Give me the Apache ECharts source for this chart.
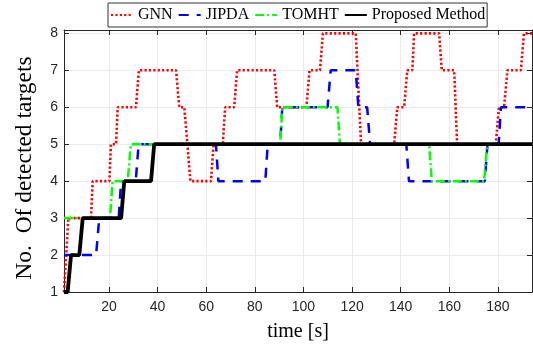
<!DOCTYPE html>
<html>
<head>
<meta charset="utf-8">
<script src="https://cdn.jsdelivr.net/npm/echarts@6/dist/echarts.min.js"></script>
<style>
  html, body { margin: 0; padding: 0; background: #fff; }
  #chart { width: 533px; height: 348px; }
</style>
</head>
<body>
<div id="chart"></div>
<script>
// tick labels
const xTicks = [20, 40, 60, 80, 100, 120, 140, 160, 180];
const yTicks = [1, 2, 3, 4, 5, 6, 7, 8];

// break points [time, count]
const gnn = [[1.5, 1], [2.2, 1], [3.3, 3], [12.6, 3], [13.3, 4], [20.2, 4], [20.8, 5], [22.9, 5], [23.6, 6],
  [31.1, 6], [32.3, 7], [47.6, 7], [48.9, 6], [51, 6], [53.5, 4], [62, 4], [63, 5], [66.8, 5], [67.8, 6],
  [71.5, 6], [72.7, 7], [88, 7], [89.2, 6], [101.2, 6], [102.5, 7], [106.8, 7], [108, 8], [121.5, 8],
  [123.7, 5], [137.3, 5], [138.6, 6], [141.4, 6], [142.7, 7], [144.8, 7], [145.5, 8], [155.8, 8],
  [156.9, 7], [162, 7], [163.2, 5], [179.1, 5], [180.4, 6], [182.5, 6], [183.9, 7], [189.4, 7],
  [190.7, 8], [194, 8]];
const jipda = [[1.5, 2], [14.7, 2], [16, 3], [24, 3], [25, 4], [31, 4], [32.2, 5], [64, 5], [65, 4],
  [84.3, 4], [85.3, 5], [90.4, 5], [91.3, 6], [109.9, 6], [111.2, 7], [121.5, 7], [122.6, 6],
  [126.2, 6], [127.4, 5], [142.3, 5], [143.4, 4], [174.6, 4], [175.7, 5], [180.3, 5], [181.2, 6], [194, 6]];
const tomht = [[1.5, 3], [20.4, 3], [21.5, 4], [27.7, 4], [29, 5], [90.4, 5], [91.3, 6], [114, 6],
  [115, 5], [151.7, 5], [152.8, 4], [174.3, 4], [175.6, 5], [194, 5]];
const proposed = [[1.5, 1], [3, 1], [4.4, 2], [7.8, 2], [9.2, 3], [25, 3], [26.3, 4], [37.3, 4],
  [38.6, 5], [194, 5]];

const axisColor = "#262626";
const gridColor = "#ebebeb";

const chart = echarts.init(document.getElementById("chart"));

function frameAxis(pos, ticks) {
  return {
    type: "value",
    position: pos,
    axisLine: { show: true, lineStyle: { color: axisColor, width: 1 } },
    axisTick: { show: true, inside: true, length: 5, customValues: ticks, lineStyle: { color: axisColor } },
    axisLabel: { show: false },
    splitLine: { show: false },
  };
}

chart.setOption({
  animation: false,
  grid: { left: 64, right: 1, top: 30, bottom: 56 },
  legend: {
    left: 108,
    top: 3,
    padding: [4, 2, 4, 2],
    itemGap: 5,
    itemWidth: 22,
    itemHeight: 14,
    borderColor: "#333",
    borderWidth: 1,
    backgroundColor: "#fff",
    itemStyle: { opacity: 0 },
    textStyle: { fontFamily: "Liberation Serif", fontSize: 16, color: "#000" },
    data: ["GNN", "JIPDA", "TOMHT", "Proposed Method"],
  },
  xAxis: [
    {
      type: "value",
      min: 1.5,
      max: 194,
      position: "bottom",
      name: "time [s]",
      nameLocation: "middle",
      nameGap: 30,
      nameTextStyle: { fontFamily: "Liberation Serif", fontSize: 20, color: "#000" },
      axisLine: { show: true, lineStyle: { color: axisColor, width: 1 } },
      axisTick: { show: true, inside: true, length: 5, customValues: xTicks, lineStyle: { color: axisColor } },
      axisLabel: { customValues: xTicks, color: axisColor, fontFamily: "Liberation Sans", fontSize: 14, margin: 8 },
      splitLine: { show: true, lineStyle: { color: gridColor, width: 1 } },
    },
    Object.assign(frameAxis("top", xTicks), { min: 1.5, max: 194 }),
  ],
  yAxis: [
    {
      type: "value",
      min: 1,
      max: 8.09,
      position: "left",
      name: "No.  Of detected targets",
      nameLocation: "middle",
      nameGap: 27,
      nameTextStyle: { fontFamily: "Liberation Serif", fontSize: 23.5, color: "#000", padding: [0, 14, 0, 0] },
      axisLine: { show: true, lineStyle: { color: axisColor, width: 1 } },
      axisTick: { show: true, inside: true, length: 5, customValues: yTicks, lineStyle: { color: axisColor } },
      axisLabel: { customValues: yTicks, color: axisColor, fontFamily: "Liberation Sans", fontSize: 14, margin: 6 },
      splitLine: { show: true, lineStyle: { color: gridColor, width: 1 } },
    },
    Object.assign(frameAxis("right", yTicks), { min: 1, max: 8.09 }),
  ],
  series: [
    {
      name: "GNN",
      type: "line",
      data: gnn,
      symbol: "none",
      itemStyle: { color: "#ff0000" },
      lineStyle: { color: "#ff0000", width: 2.6, type: [2.2, 2.2] },
      z: 2,
    },
    {
      name: "JIPDA",
      type: "line",
      data: jipda,
      symbol: "none",
      itemStyle: { color: "#0000ff" },
      lineStyle: { color: "#0000ff", width: 2.5, type: [10, 8] },
      z: 3,
    },
    {
      name: "TOMHT",
      type: "line",
      data: tomht,
      symbol: "none",
      itemStyle: { color: "#00ff00" },
      lineStyle: { color: "#00ff00", width: 2.5, type: [9, 3, 2, 3] },
      z: 4,
    },
    {
      name: "Proposed Method",
      type: "line",
      data: proposed,
      symbol: "none",
      itemStyle: { color: "#000000" },
      lineStyle: { color: "#000000", width: 3.8 },
      z: 5,
    },
  ],
});
</script>
</body>
</html>
